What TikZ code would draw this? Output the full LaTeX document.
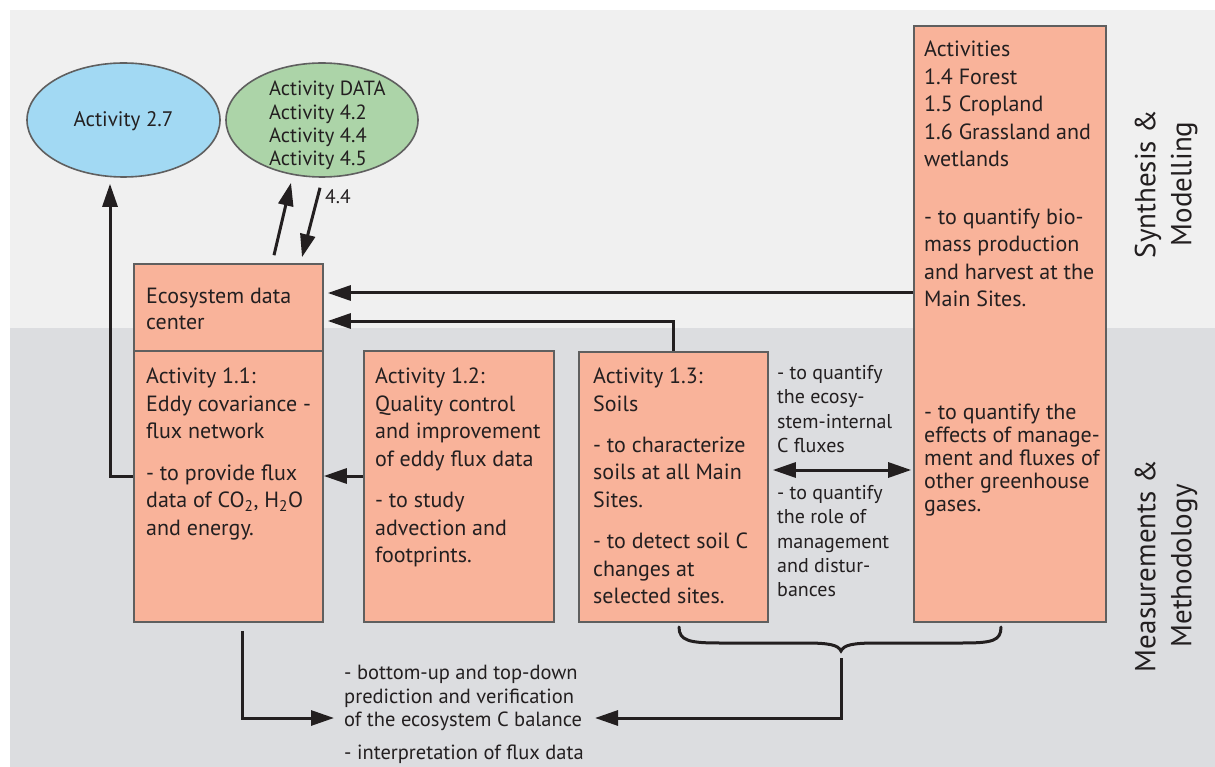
\documentclass[tikz,border=0pt]{standalone}
\usepackage{fontspec}
\setmainfont{PT Sans}
\usetikzlibrary{arrows.meta,shapes.geometric}

\definecolor{salmon}{RGB}{249,179,154}
\definecolor{boxline}{RGB}{95,95,95}
\definecolor{ink}{RGB}{35,31,32}
\definecolor{bgtop}{RGB}{240,240,240}
\definecolor{bgbot}{RGB}{220,221,224}
\definecolor{skyfill}{RGB}{162,217,243}
\definecolor{leaffill}{RGB}{172,212,168}

\newcommand{\boxfont}{\fontsize{22}{27.5}\selectfont}
\newcommand{\notefont}{\fontsize{20}{24.4}\selectfont}
\newcommand{\sidefont}{\fontsize{29}{36}\selectfont}

\tikzset{
  actbox/.style={rectangle, draw=boxline, line width=1.6pt, fill=salmon, inner sep=0pt},
  oval/.style={ellipse, draw=boxline, line width=1.6pt, inner sep=0pt, text=ink},
  txt/.style={anchor=north west, inner sep=0pt, align=left, text=ink, font=\boxfont},
  note/.style={anchor=north west, inner sep=0pt, align=left, text=ink, font=\notefont},
  arr/.style={draw=ink, line width=3pt, -{Triangle[length=23pt,width=15pt]}},
  dblarr/.style={draw=ink, line width=3pt, {Triangle[length=23pt,width=15pt]}-{Triangle[length=23pt,width=15pt]}},
}

\begin{document}
\begin{tikzpicture}[x=1pt,y=-1pt]
\useasboundingbox (0,0) rectangle (1215,767);
\fill[white] (0,0) rectangle (1215,767);
% two bands: synthesis (top) and measurements (bottom)
\fill[bgtop] (10,10) rectangle (1215,328);
\fill[bgbot] (10,328) rectangle (1215,767);

% ellipses
\node[oval, fill=skyfill, minimum width=193pt, minimum height=114pt] (e27) at (123.5,120) {};
\node[anchor=center, inner sep=0pt, text=ink, font=\fontsize{21}{24}\selectfont] (t27) at (123.5,121.5) {Activity 2.7};
\node[oval, fill=leaffill, minimum width=192pt, minimum height=114pt] (edata) at (322,120) {};
\node[txt, font=\fontsize{20.5}{23.4}\selectfont] (tdata) at (269,81)
  {Activity DATA\\Activity 4.2\\Activity 4.4\\Activity 4.5};

% activity boxes
\node[actbox, minimum width=189pt, minimum height=87pt] (edc) at (228.5,307.5) {};
\node[actbox, minimum width=189pt, minimum height=271pt] (a11) at (228.5,486.5) {};
\node[actbox, minimum width=190pt, minimum height=271pt] (a12) at (459,486.5) {};
\node[actbox, minimum width=189pt, minimum height=270pt] (a13) at (673.5,487) {};
\node[actbox, minimum width=192pt, minimum height=596pt] (a14) at (1010,324) {};

% box texts
\node[txt, font=\fontsize{22}{26}\selectfont] (tedc) at (146,288) {Ecosystem data\\center};
\node[txt] (t11) at (146,368) {Activity 1.1:\\Eddy covariance -\\flux network\\[14pt]- to provide flux\\data of CO\textsubscript{2}, H\textsubscript{2}O\\and energy.};
\node[txt] (t12) at (375,368) {Activity 1.2:\\Quality control\\and improvement\\of eddy flux data\\[14pt]- to study\\advection and\\footprints.};
\node[txt] (t13) at (593,368) {Activity 1.3:\\Soils\\[13.5pt]- to characterize\\soils at all Main\\Sites.\\[14pt]- to detect soil C\\changes at\\selected sites.};
\node[txt] (t14a) at (924,41) {Activities\\1.4 Forest\\1.5 Cropland\\1.6 Grassland and\\wetlands\\[30pt]- to quantify bio-\\mass production\\and harvest at the\\Main Sites.};
\node[txt, font=\fontsize{22}{23}\selectfont] (t14b) at (924,404) {- to quantify the\\effects of manage-\\ment and fluxes of\\other greenhouse\\gases.};

% notes beside the double arrow
\node[note] (nup) at (777,365) {- to quantify\\the ecosy-\\stem-internal\\C fluxes};
\node[note] (ndown) at (777,485) {- to quantify\\the role of\\management\\and distur-\\bances};

% outcome text at the bottom
\node[note, font=\fontsize{20.5}{23.5}\selectfont] (bot) at (344,665) {- bottom-up and top-down\\prediction and verification\\of the ecosystem C balance\\[9.5pt]- interpretation of flux data};

% band labels
\node[rotate=90, align=center, text=ink, font=\sidefont, inner sep=0pt] (synth) at (1166,184) {Synthesis \&\\Modelling};
\node[rotate=90, align=center, text=ink, font=\sidefont, inner sep=0pt] (meas) at (1166,566) {Measurements \&\\Methodology};

% data exchange with the DATA ellipse
\draw[arr] ([xshift=45.5pt,yshift=8pt]edc.north) -- ([xshift=-31pt,yshift=-5pt]edata.south);
\draw[arr] ([xshift=-2pt,yshift=-10pt]edata.south) -- ([xshift=73.5pt,yshift=6pt]edc.north);
\node[anchor=west, inner sep=0pt, text=ink, font=\fontsize{19.5}{22}\selectfont] (lab44) at (325,197) {4.4};

% flows into the ecosystem data center
\coordinate (r1) at (914,293);
\draw[arr, shorten >=4pt] (r1 -| a14.west) -- (r1 -| edc.east);
\coordinate (r2) at (673.5,321);
\draw[arr, shorten >=4pt] (a13.north) -- (r2) -- (r2 -| edc.east);

% 1.2 -> 1.1 and 1.1 -> 2.7
\coordinate (m1) at (110,476);
\draw[arr] (m1 -| a12.west) -- (m1 -| a11.east);
\draw[arr, shorten >=6pt] (m1 -| a11.west) -- (m1) -- (m1 |- e27.south);

% 1.3 <-> sites
\coordinate (d1) at (0,470);
\draw[dblarr, shorten <=4pt, shorten >=2pt] (d1 -| a13.east) -- (d1 -| a14.west);

% brace under 1.3 and the sites
\coordinate (bt) at (841,651);
\draw[ink, line width=3pt, line cap=round]
  (679,627) .. controls (679,641) and (690,643) .. (720,643) -- (805,643)
  .. controls (830,643) and (838,645) .. (bt)
  .. controls (844,645) and (852,643) .. (877,643) -- (962,643)
  .. controls (992,643) and (1001,641) .. (1001,627);

% flows into the outcome text
\coordinate (bl) at (242,718);
\draw[arr, shorten <=8pt, shorten >=10pt] (bl |- a11.south) -- (bl) -- (bl -| bot.west);
\coordinate (br) at (841,718);
\coordinate (btip) at (595,718);
\draw[arr, shorten <=7pt] (bt) -- (br) -- (btip);
\end{tikzpicture}
\end{document}
